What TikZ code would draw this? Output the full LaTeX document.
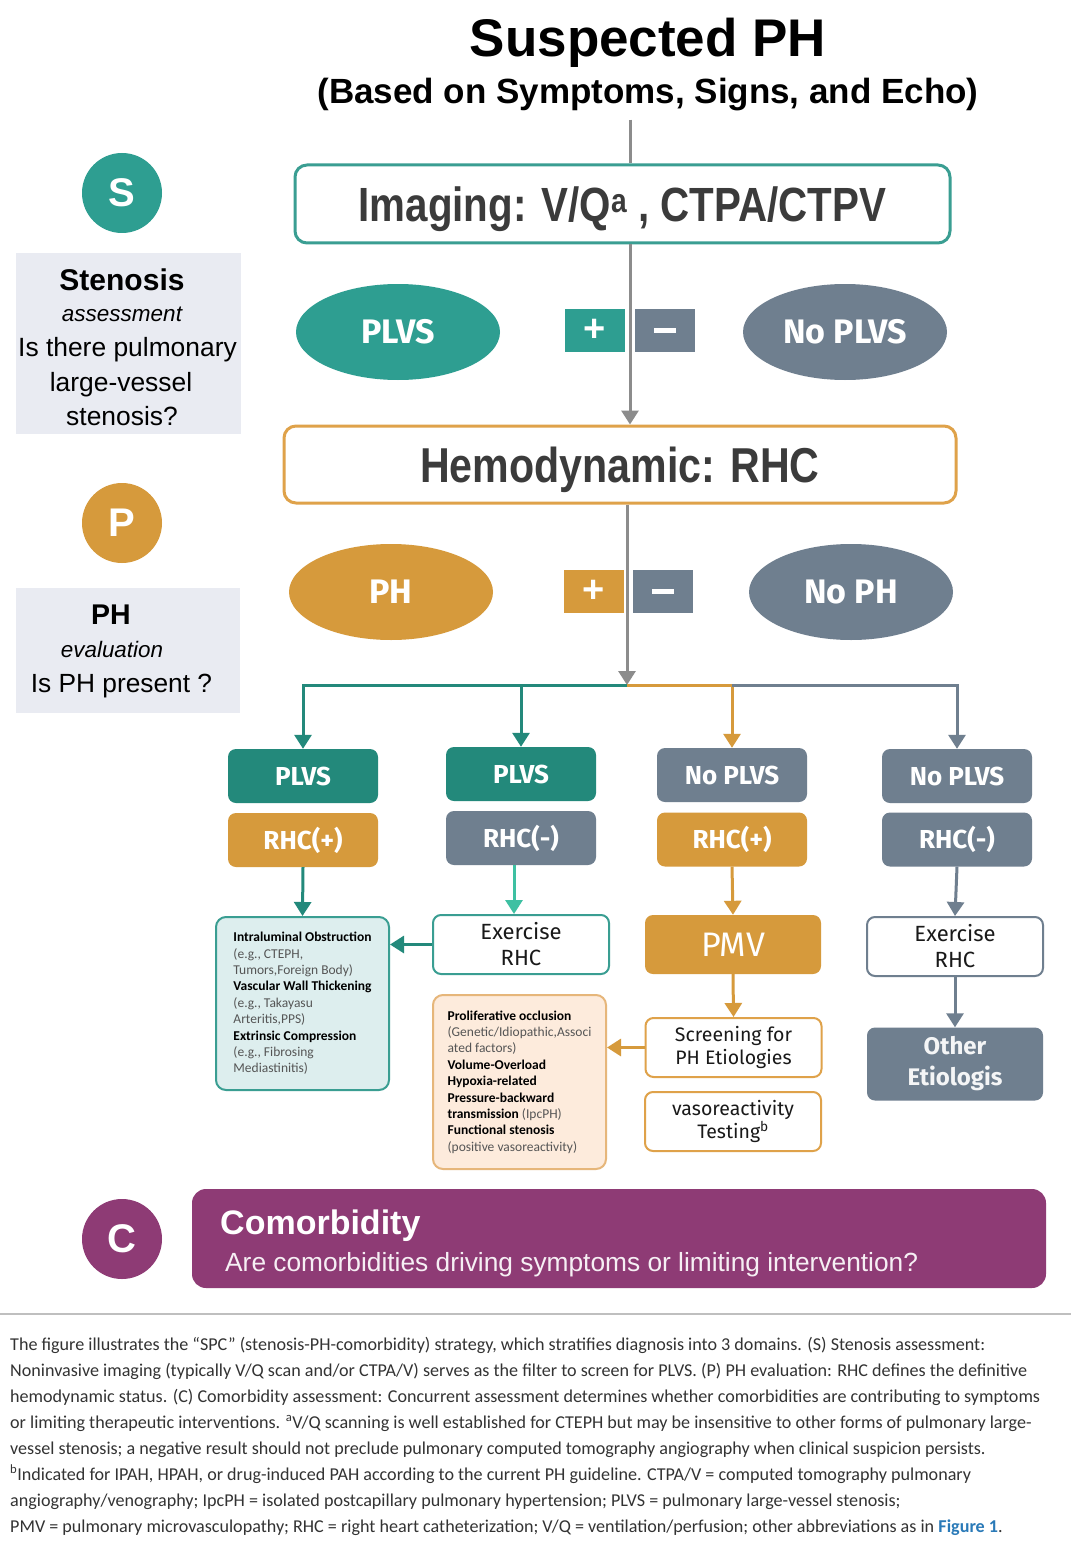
\documentclass[tikz,border=0pt]{standalone}
\usepackage{fontspec}
\setmainfont{Liberation Sans}
\newfontfamily\arn[FakeStretch=0.84]{Liberation Sans}
\newfontfamily\din{Fira Sans}
\newfontfamily\carl{Carlito}
\usetikzlibrary{shapes.geometric,arrows.meta,calc}
\newcommand\fsz[2]{\fontsize{#1}{#2}\selectfont}
\definecolor{tealc}{HTML}{2E9E91}
\definecolor{dteal}{HTML}{23897B}
\definecolor{tealb}{HTML}{3A9E92}
\definecolor{lteal}{HTML}{3EC0A2}
\definecolor{orng}{HTML}{D69A3C}
\definecolor{orngb}{HTML}{DFA24A}
\definecolor{slate}{HTML}{6F7F8F}
\definecolor{purp}{HTML}{8E3B75}
\definecolor{panel}{HTML}{E9EBF2}
\definecolor{gline}{HTML}{8C8C8C}
\definecolor{ltealfill}{HTML}{DDEEEE}
\definecolor{peach}{HTML}{FDEBDC}
\definecolor{peachb}{HTML}{E6B67A}
\definecolor{smallg}{HTML}{555555}
\definecolor{capc}{HTML}{333333}
\definecolor{figblue}{HTML}{2A7AB8}
\definecolor{darktxt}{HTML}{3B3B3B}
\tikzset{
  ell/.style={ellipse, minimum width=204, minimum height=96, inner sep=0, text=white, font=\din\bfseries\fsz{34}{38}},
  sq/.style={minimum width=60, minimum height=43, inner sep=0, text=white, font=\bfseries\fsz{38}{40}},
  tbox/.style={rounded corners=8, minimum width=150, minimum height=54, inner sep=0, text=white, font=\din\bfseries\fsz{26}{30}},
  wbox/.style={rounded corners=8, fill=white, line width=2, minimum width=176, minimum height=59, align=center, inner sep=0, font=\din\fsz{22}{26}, text=black!90},
  smallbox/.style={rounded corners=10, line width=2, minimum width=173, inner sep=0, align=left, font=\carl\fsz{13.5}{16.4}},
  circ/.style={circle, minimum size=80, inner sep=0, text=white, font=\bfseries\fsz{40}{44}},
  tip/.style={-{Triangle[width=17,length=14]}},
  garrow/.style={draw=gline, line width=3, tip},
  tarrow/.style={draw=dteal, line width=3, tip},
  oarrow/.style={draw=orng, line width=3, tip},
  sarrow/.style={draw=slate, line width=3, tip},
  captxt/.style={anchor=base west, inner sep=0, text=capc, font=\carl\fsz{18.1}{20}},
  pantxt/.style={anchor=base, inner sep=0, text=black},
}
\begin{document}
\begin{tikzpicture}[x=1pt,y=-1pt]
\useasboundingbox (0,0) rectangle (1071,1554);
\fill[white] (0,0) rectangle (1071,1554);

% title
\node[anchor=base, inner sep=0, font=\bfseries\fsz{53}{60}] (title) at (648,57) {Suspected PH};
\node[anchor=base, inner sep=0, font=\bfseries\fsz{35}{40}] (sub) at (648,104) {(Based on Symptoms, Signs, and Echo)};

% main boxes
\node[draw=tealb, line width=3, rounded corners=12, fill=white, minimum width=655, minimum height=78, inner sep=0, text depth=0pt, text=darktxt, font=\arn\bfseries\fsz{48}{52}] (img) at (622.5,204) {Imaging: V/Q\textsuperscript{a} , CTPA/CTPV};
\node[draw=orngb, line width=3, rounded corners=12, fill=white, minimum width=672, minimum height=77, inner sep=0, text depth=0pt, text=darktxt, font=\arn\bfseries\fsz{49}{52}] (hem) at (620,464.5) {Hemodynamic: RHC};

\coordinate (sp) at (630,0);
\coordinate (sp2) at (627,0);
\coordinate (jn) at (627,685);
\draw[draw=gline, line width=3] ($(sub.south -| sp)+(0,8)$) -- (img.north -| sp);
\draw[garrow] (img.south -| sp) -- (hem.north -| sp);
\draw[garrow] (hem.south -| sp2) -- (jn);

% ellipses and signs
\node[ell, fill=tealc] (e1) at (398,332) {PLVS};
\node[sq, fill=tealc] (p1) at (595,330.5) {+};
\node[sq, fill=slate] (m1) at (665,330.5) {\rule{22pt}{5.5pt}};
\node[ell, fill=slate] (e2) at (845,332) {No PLVS};
\node[ell, fill=orng] (e3) at (391,592) {PH};
\node[sq, fill=orng] (p2) at (593.5,591.5) {+};
\node[sq, fill=slate] (m2) at (663,591.5) {\rule{22pt}{5.5pt}};
\node[ell, fill=slate] (e4) at (851,592) {No PH};

% column boxes
\node[tbox, fill=dteal] (a1) at (303,776) {PLVS};
\node[tbox, fill=orng] (a2) at (303,840) {RHC(+)};
\node[tbox, fill=dteal] (b1) at (521,774) {PLVS};
\node[tbox, fill=slate] (b2) at (521,838) {RHC(-)};
\node[tbox, fill=slate] (c1) at (732,775) {No PLVS};
\node[tbox, fill=orng] (c2) at (732,839.5) {RHC(+)};
\node[tbox, fill=slate] (d1) at (957,776) {No PLVS};
\node[tbox, fill=slate] (d2) at (957,839.5) {RHC(-)};

% branches
\draw[tarrow] (jn) -| (a1.north);
\draw[tarrow] (jn -| b1) -- (b1.north);
\draw[oarrow] (jn) -| (c1.north);
\draw[sarrow] (c1.north |- jn) -| (d1.north);

% lower boxes
\node[smallbox, draw=tealb, fill=ltealfill, minimum height=173] (intra) at (302.5,1003.5) {%
{\bfseries Intraluminal Obstruction}\\
{\color{smallg}(e.g., CTEPH,}\\
{\color{smallg}Tumors,Foreign Body)}\\
{\bfseries Vascular Wall Thickening}\\
{\color{smallg}(e.g., Takayasu}\\
{\color{smallg}Arteritis,PPS)}\\
{\bfseries Extrinsic Compression}\\
{\color{smallg}(e.g., Fibrosing}\\
{\color{smallg}Mediastinitis)}};
\node[wbox, draw=tealb] (ex1) at (521,944.5) {Exercise\\RHC};
\node[rounded corners=8, fill=orng, minimum width=176, minimum height=59, inner sep=0, text=white, font=\din\fsz{34}{36}] (pmv) at (733,944.5) {PMV};
\node[wbox, draw=orngb, font=\din\fsz{19.5}{23.5}] (scr) at (733.5,1047.5) {Screening for\\PH Etiologies};
\node[wbox, draw=orngb, font=\din\fsz{19.5}{23.5}] (vaso) at (733,1121.5) {vasoreactivity\\Testing\textsuperscript{b}};
\node[smallbox, draw=peachb, fill=peach, minimum height=174] (prolif) at (519.5,1082) {%
{\bfseries Proliferative occlusion}\\
{\color{smallg}(Genetic/Idiopathic,Associ}\\
{\color{smallg}ated factors)}\\
{\bfseries Volume-Overload}\\
{\bfseries Hypoxia-related}\\
{\bfseries Pressure-backward}\\
{\bfseries transmission} {\color{smallg}(IpcPH)}\\
{\bfseries Functional stenosis}\\
{\color{smallg}(positive vasoreactivity)}};
\node[wbox, draw=slate] (ex2) at (955,946.5) {Exercise\\RHC};
\node[rounded corners=8, fill=slate, minimum width=176, minimum height=73, inner sep=0, align=center, text=white!92!slate, font=\din\bfseries\fsz{24}{31}] (oth) at (955,1064) {Other\\Etiologis};

\draw[tarrow] (a2.south) -- (intra.north);
\draw[draw=lteal, line width=3, tip] ($(b2.south)+(-7,0)$) -- ($(ex1.north)+(-7,0)$);
\draw[oarrow] (c2.south) -- (pmv.north);
\draw[sarrow] (d2.south) -- (ex2.north);
\draw[tarrow] (ex1.west) -- (ex1.west -| intra.east);
\draw[oarrow] (pmv.south) -- (scr.north);
\draw[oarrow] (scr.west) -- (scr.west -| prolif.east);
\draw[sarrow] (ex2.south) -- (oth.north);

% left panels
\node[circ, fill=tealc] (cs) at (122,193) {S};
\fill[panel] (16,253) rectangle (241,434);
\node[pantxt, font=\bfseries\fsz{30}{34}] (s1) at (122,290) {Stenosis};
\node[pantxt, font=\itshape\fsz{22.5}{26}] (s2) at (122,321) {assessment};
\node[pantxt, font=\fsz{26.4}{30}] (s3) at (127.5,356) {Is there pulmonary};
\node[pantxt, font=\fsz{26.4}{30}] (s4) at (121,391) {large-vessel};
\node[pantxt, font=\fsz{26.4}{30}] (s5) at (122,425.5) {stenosis?};

\node[circ, fill=orng] (cp) at (122,523) {P};
\fill[panel] (16,588) rectangle (240,713);
\node[pantxt, font=\bfseries\fsz{28.5}{32}] (q1) at (111,624) {PH};
\node[pantxt, font=\itshape\fsz{22.4}{26}] (q2) at (112,657) {evaluation};
\node[pantxt, font=\fsz{26.3}{30}] (q3) at (121.5,692.5) {Is PH present ?};

% comorbidity
\node[circ, fill=purp] (cc) at (122,1239) {C};
\node[rounded corners=14, fill=purp, minimum width=854, minimum height=99, inner sep=0] (com) at (619,1238.5) {};
\node[anchor=base west, inner sep=0, text=white, font=\bfseries\fsz{34}{38}] (ct1) at (220,1234) {Comorbidity};
\node[anchor=base west, inner sep=0, text=white!92!purp, font=\fsz{26.3}{30}] (ct2) at (225,1271) {Are comorbidities driving symptoms or limiting intervention?};

% separator
\draw[draw=black!25, line width=1.5] (0,1314) -- (1071,1314);

% caption
\node[captxt] (l1) at (10,1350) {The figure illustrates the “SPC” (stenosis-PH-comorbidity) strategy, which stratifies diagnosis into 3 domains. (S) Stenosis assessment:};
\node[captxt] (l2) at (10,1376) {Noninvasive imaging (typically V/Q scan and/or CTPA/V) serves as the filter to screen for PLVS. (P) PH evaluation: RHC defines the definitive};
\node[captxt] (l3) at (10,1402) {hemodynamic status. (C) Comorbidity assessment: Concurrent assessment determines whether comorbidities are contributing to symptoms};
\node[captxt] (l4) at (10,1428) {or limiting therapeutic interventions. \textsuperscript{a}V/Q scanning is well established for CTEPH but may be insensitive to other forms of pulmonary large-};
\node[captxt] (l5) at (10,1454) {vessel stenosis; a negative result should not preclude pulmonary computed tomography angiography when clinical suspicion persists.};
\node[captxt] (l6) at (10,1480) {\textsuperscript{b}Indicated for IPAH, HPAH, or drug-induced PAH according to the current PH guideline. CTPA/V = computed tomography pulmonary};
\node[captxt] (l7) at (10,1506) {angiography/venography; IpcPH = isolated postcapillary pulmonary hypertension; PLVS = pulmonary large-vessel stenosis;};
\node[captxt] (l8) at (10,1532) {PMV = pulmonary microvasculopathy; RHC = right heart catheterization; V/Q = ventilation/perfusion; other abbreviations as in {\color{figblue}\bfseries Figure 1}.};
\end{tikzpicture}
\end{document}
